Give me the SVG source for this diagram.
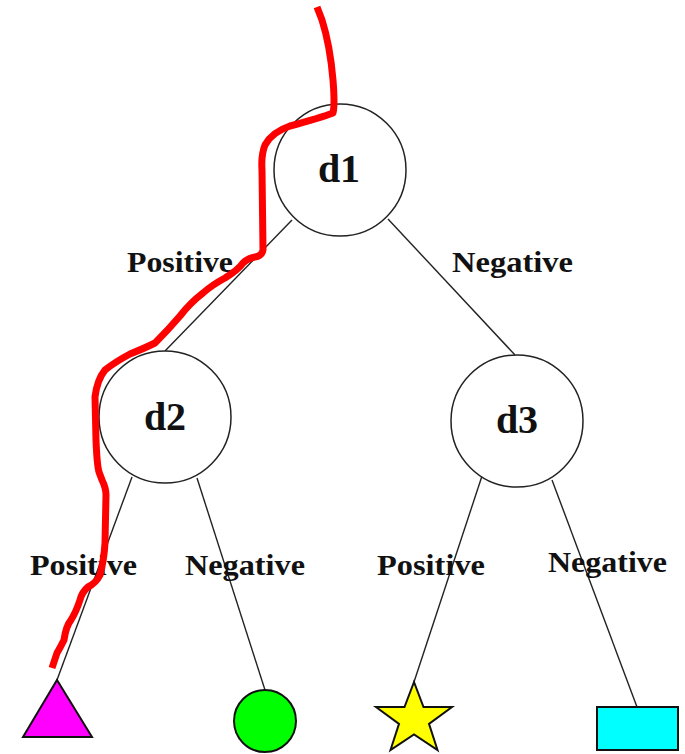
<svg xmlns="http://www.w3.org/2000/svg" width="685" height="754" viewBox="0 0 685 754">
<style>
.node{fill:#fff;stroke:#222;stroke-width:1.5}
.edge{stroke:#222;stroke-width:1.4;fill:none}
.lbl{font-family:"Liberation Serif",serif;font-weight:bold;font-size:29px;fill:#111}
.nl{font-family:"Liberation Serif",serif;font-weight:bold;font-size:40px;fill:#111;text-anchor:middle}
.leaf{stroke:#111;stroke-width:2}
</style>
<rect width="685" height="754" fill="#fff"/>
<g id="connectors">
<line class="edge" x1="292" y1="220" x2="165" y2="351"/>
<line class="edge" x1="388" y1="219" x2="515" y2="355"/>
<line class="edge" x1="132" y1="477" x2="57" y2="680"/>
<line class="edge" x1="197" y1="478" x2="265" y2="690"/>
<line class="edge" x1="482" y1="476" x2="414" y2="682"/>
<line class="edge" x1="552" y1="480" x2="637" y2="707"/>
</g>
<g id="labels">
<text class="lbl" x="127" y="272" textLength="106" lengthAdjust="spacingAndGlyphs">Positive</text>
<text class="lbl" x="452" y="272" textLength="121" lengthAdjust="spacingAndGlyphs">Negative</text>
<text class="lbl" x="30" y="575" textLength="107" lengthAdjust="spacingAndGlyphs">Positive</text>
<text class="lbl" x="185" y="575" textLength="120" lengthAdjust="spacingAndGlyphs">Negative</text>
<text class="lbl" x="377" y="575" textLength="108" lengthAdjust="spacingAndGlyphs">Positive</text>
<text class="lbl" x="548" y="572" textLength="119" lengthAdjust="spacingAndGlyphs">Negative</text>
</g>
<g id="d1">
<circle class="node" cx="340" cy="170" r="66"/>
<text class="nl" x="339" y="182">d1</text>
</g>
<g id="d2">
<circle class="node" cx="165" cy="417" r="66"/>
<text class="nl" x="165" y="430">d2</text>
</g>
<g id="d3">
<circle class="node" cx="517" cy="421" r="66"/>
<text class="nl" x="517" y="433">d3</text>
</g>
<g id="leaf-triangle">
<polygon class="leaf" fill="#ff00ff" points="57,680 92,737 23,737"/>
</g>
<g id="leaf-circle">
<circle class="leaf" fill="#00ff00" cx="265" cy="721" r="31"/>
</g>
<g id="leaf-star">
<polygon class="leaf" fill="#ffff00" points="414,682 423.5,707 452,707 429,723.9 437.5,750 414,734.4 390.5,750 399,723.9 376,707 404.5,707"/>
</g>
<g id="leaf-rect">
<rect class="leaf" fill="#00ffff" x="597" y="707" width="81" height="43"/>
</g>
<g id="path">
<path d="M317,7 L322,20 Q330,45 333,80 Q335,105 333,113 Q320,118 290,126 Q272,132 265,145 Q261,155 262,170 L263,250 Q262,256 255,257 Q248,258 243,263 Q238,270 225,278 Q212,285 203,293 Q190,303 180,316 Q168,330 155,343 Q145,348 130,354 Q115,362 105,370 Q97,380 95,397 L96,440 Q97,465 99,472 L102,480 Q106,488 106,495 L105,543 Q104,560 100,575 Q96,583 88,587 Q82,592 80,600 Q76,612 71,620 Q66,626 64,640 Q60,648 57,653 L52,668" fill="none" stroke="#ff0000" stroke-width="7" stroke-linecap="butt" stroke-linejoin="round"/>
</g>
</svg>
